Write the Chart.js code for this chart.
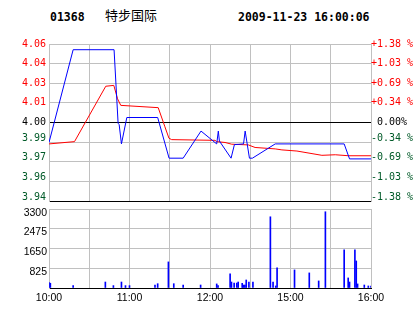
<!DOCTYPE html>
<html>
<head>
<meta charset="utf-8">
<script src="https://cdn.jsdelivr.net/npm/chart.js@4/dist/chart.umd.min.js"></script>
<style>
  body { margin: 0; background: #fff; width: 414px; height: 314px; overflow: hidden; position: relative; }
  canvas { position: absolute; left: 0; }
  #price { top: 0; }
  #volume { top: 196px; }
  .hdr { position: absolute; white-space: pre; color: #000; }
  .mono { font: bold 11.5px 'DejaVu Sans Mono', monospace; line-height: 14px; top: 10px; }
  .cjk { font: 13px 'Noto Sans CJK SC', sans-serif; line-height: 13px; top: 8px; }
</style>
</head>
<body>
<div class="hdr mono" style="left:50px">01368</div>
<div class="hdr cjk" style="left:105px">特步国际</div>
<div class="hdr mono" style="left:238px">2009-11-23 16:00:06</div>
<canvas id="price" width="414" height="212"></canvas>
<canvas id="volume" width="414" height="118"></canvas>
<script>
// time axis: minutes of trading since 10:00 (12:30-14:30 lunch skipped)
const timeTicks = [0, 30, 60, 90, 120, 150, 180, 210, 240];
const timeLabels = ['10:00', '', '11:00', '', '12:00', '', '15:00', '', '16:00'];

// price axis (prev close 4.00, +/-1.375%)
const priceTicks = [3.945, 3.95875, 3.9725, 3.98625, 4.00, 4.01375, 4.0275, 4.04125, 4.055];
const priceLabels = ['3.94', '3.96', '3.97', '3.99', '4.00', '4.01', '4.03', '4.04', '4.06'];
const pctLabels = ['-1.38 %', '-1.03 %', '-0.69 %', '-0.34 %', ' 0.00%', '+0.34 %', '+0.69 %', '+1.03 %', '+1.38 %'];

// last price (blue)
const priceTimes = [0, 18, 48.5, 51.5, 52.3, 54, 58, 81, 89.5, 100, 113.3, 125, 126.2, 127, 135.7, 138.2, 145, 146.2, 149.4, 151.6, 168.6, 220, 224, 240];
const priceValues = [3.986, 4.051, 4.051, 3.9995, 3.9985, 3.985, 4.0035, 4.0035, 3.975, 3.975, 3.994, 3.985, 3.994, 3.987, 3.975, 3.9845, 3.985, 3.994, 3.975, 3.975, 3.985, 3.985, 3.9745, 3.9745];

// average price (red)
const avgTimes = [0, 19, 42.3, 48.3, 51.1, 53.5, 81.4, 86.4, 89.4, 91.4, 123.7, 125, 131.2, 136.2, 148.6, 153.6, 168.6, 173.6, 184.8, 203.4, 213.4, 223.3, 240];
const avgValues = [3.985, 3.9866, 4.0254, 4.026, 4.0166, 4.012, 4.0104, 3.997, 3.989, 3.988, 3.9875, 3.9866, 3.986, 3.9848, 3.9843, 3.9825, 3.9815, 3.9808, 3.980, 3.977, 3.9774, 3.9767, 3.9767];

// volume
const volTicks = [0, 825, 1650, 2475, 3300];
const volLabels = ['', '825', '1650', '2475', '3300'];
const volTimes = [0, 1, 18, 42, 48, 54, 57, 60, 79, 81, 89, 93, 100, 113, 125, 126, 135, 136, 138, 140, 141, 144, 145, 146, 147, 149, 152, 165, 167, 169, 170, 183, 194, 201, 206, 220, 223, 224, 228, 229, 230, 235, 238, 240];
const volValues = [230, 200, 100, 250, 100, 250, 100, 100, 125, 180, 1090, 180, 125, 125, 170, 100, 590, 250, 210, 210, 250, 195, 125, 125, 335, 250, 250, 2975, 250, 85, 840, 755, 630, 295, 3185, 1595, 420, 250, 1595, 1130, 170, 125, 85, 85];

const GRID = '#c0c0c0';
const GREEN = '#005a28';
const RED = '#ff0000';

function pairs(xs, ys) {
  return xs.map((x, i) => ({ x: x, y: ys[i] }));
}

function setTicks(list) {
  return scale => { scale.ticks = list.map(v => ({ value: v })); };
}

function tickColor(ctx) {
  if (ctx.index === 4) return '#000';
  return ctx.index < 4 ? GREEN : RED;
}

// labels under the zero line sit just above their grid line
function priceLabel(list) {
  return (v, i) => i < 4 ? [list[i], ''] : list[i];
}

const monoFont = { family: 'DejaVu Sans Mono', size: 10, lineHeight: 0.8 };
const sansFont = { family: 'Liberation Sans', size: 10.5 };

new Chart(document.getElementById('price'), {
  type: 'line',
  data: {
    datasets: [
      { data: pairs(priceTimes, priceValues), borderColor: '#0000ff', borderWidth: 1, pointRadius: 0, tension: 0 },
      { data: pairs(avgTimes, avgValues), borderColor: RED, borderWidth: 1, pointRadius: 0, tension: 0 }
    ]
  },
  options: {
    responsive: false,
    animation: false,
    devicePixelRatio: 1,
    events: [],
    layout: { padding: { top: 44, bottom: 9 } },
    plugins: { legend: { display: false }, tooltip: { enabled: false } },
    scales: {
      x: {
        type: 'linear', min: 0, max: 240,
        afterBuildTicks: setTicks(timeTicks),
        afterFit: s => { s.height = 0; },
        ticks: { display: false },
        grid: { color: GRID, drawTicks: false },
        border: { color: '#000' }
      },
      y: {
        position: 'left', min: 3.945, max: 4.055,
        afterBuildTicks: setTicks(priceTicks),
        afterFit: s => { s.width = 49; },
        ticks: { callback: priceLabel(priceLabels), color: tickColor, font: monoFont, padding: 3 },
        grid: { color: c => (c.index === 0 || c.index === 4) ? '#000' : GRID, drawTicks: false },
        border: { color: GRID }
      },
      y2: {
        position: 'right', min: 3.945, max: 4.055,
        afterBuildTicks: setTicks(priceTicks),
        afterFit: s => { s.width = 43; },
        ticks: { callback: priceLabel(pctLabels), color: tickColor, font: monoFont, padding: 0 },
        grid: { drawOnChartArea: false, drawTicks: false },
        border: { color: GRID }
      }
    }
  }
});

new Chart(document.getElementById('volume'), {
  type: 'bar',
  data: {
    datasets: [
      { data: pairs(volTimes, volValues), backgroundColor: '#0000ff', borderWidth: 0, barThickness: 1 }
    ]
  },
  options: {
    responsive: false,
    animation: false,
    devicePixelRatio: 1,
    events: [],
    layout: { padding: { top: 13, bottom: 6, right: 43 } },
    plugins: { legend: { display: false }, tooltip: { enabled: false } },
    scales: {
      x: {
        type: 'linear', min: 0, max: 240, offset: false,
        afterBuildTicks: setTicks(timeTicks),
        afterFit: s => { s.height = 20; },
        ticks: { callback: (v, i) => timeLabels[i], color: '#000', font: sansFont, padding: 4, maxRotation: 0, autoSkip: false },
        grid: { color: GRID, drawTicks: false, offset: false },
        border: { color: '#000' }
      },
      y: {
        position: 'left', min: 0, max: 3300,
        afterBuildTicks: setTicks(volTicks),
        afterFit: s => { s.width = 49; },
        // labels hang just below their grid line
        ticks: { callback: (v, i) => ['', volLabels[i]], color: '#000', font: { family: 'Liberation Sans', size: 10.5, lineHeight: 0.7 }, padding: 2 },
        grid: { color: c => c.index === 0 ? '#000' : GRID, drawTicks: false },
        border: { color: GRID }
      }
    }
  }
});
</script>
</body>
</html>
